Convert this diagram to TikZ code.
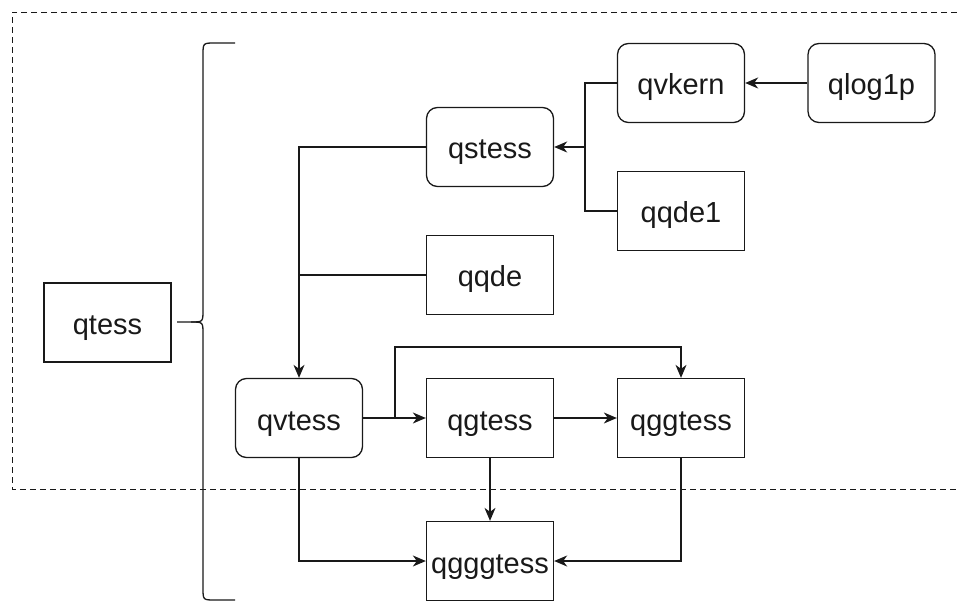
\documentclass[tikz,border=0pt]{standalone}
\usepackage{fontspec}
\setmainfont{Liberation Sans}
\usetikzlibrary{arrows.meta}
\begin{document}
\begin{tikzpicture}[x=1pt,y=-1pt,
  box/.style={draw=black!90, line width=1.3pt, minimum width=127pt, minimum height=79pt, inner sep=0pt, font=\fontsize{29}{33}\selectfont, text=black!90, text height=24pt, text depth=0pt},
  rbox/.style={box, rounded corners=11pt},
  conn/.style={draw=black!90, line width=1.3pt},
  arr/.style={conn, -{Stealth[length=13pt,width=11pt,inset=4pt]}}]
\useasboundingbox (0,0) rectangle (957,601);
% dashed group frame (open on the right)
\draw[line width=0.9pt, dash pattern=on 6pt off 4pt, black!90] (957,12) -- (12,12) -- (12,489) -- (957,489);

% nodes
\node[box]  (qtess)    at (107.5,322.5) {qtess};
\node[rbox] (qstess)   at (490,147) {qstess};
\node[rbox] (qvkern)   at (681,83) {qvkern};
\node[rbox] (qlogp)    at (871.5,83) {qlog1p};
\node[box]  (qqdeone)  at (681,211) {qqde1};
\node[box]  (qqde)     at (490,275) {qqde};
\node[rbox] (qvtess)   at (299,418) {qvtess};
\node[box]  (qgtess)   at (490,418) {qgtess};
\node[box]  (qggtess)  at (681,418) {qggtess};
\node[box]  (qgggtess) at (490,561) {qgggtess};

% brace
\coordinate (btip) at (177,322);
\draw[conn] (235,43) -- (215,43) .. controls (203,43) .. (203,55)
  -- (203,310) .. controls (203,322) .. (191,322) -- (btip);
\draw[conn] (235,600) -- (215,600) .. controls (203,600) .. (203,588)
  -- (203,334) .. controls (203,322) .. (191,322);

% connectors
\coordinate (j1) at (585,147);
\coordinate (j2) at (299,275);
\coordinate (j3) at (395,418);
\coordinate (j4) at (395,347);
\draw[arr] (qlogp.west) -- (qvkern.east);
\draw[conn] (qvkern.west) -| (j1);
\draw[conn] (qqdeone.west) -| (j1);
\draw[arr] (j1) -- (qstess.east);
\draw[arr] (qstess.west) -| (qvtess.north);
\draw[conn] (qqde.west) -- (j2);
\draw[arr] (qvtess.east) -- (qgtess.west);
\draw[arr] (j3) -- (j4) -| (qggtess.north);
\draw[arr] (qgtess.east) -- (qggtess.west);
\draw[arr] (qgtess.south) -- (qgggtess.north);
\draw[arr] (qvtess.south) |- (qgggtess.west);
\draw[arr] (qggtess.south) |- (qgggtess.east);
\end{tikzpicture}
\end{document}
